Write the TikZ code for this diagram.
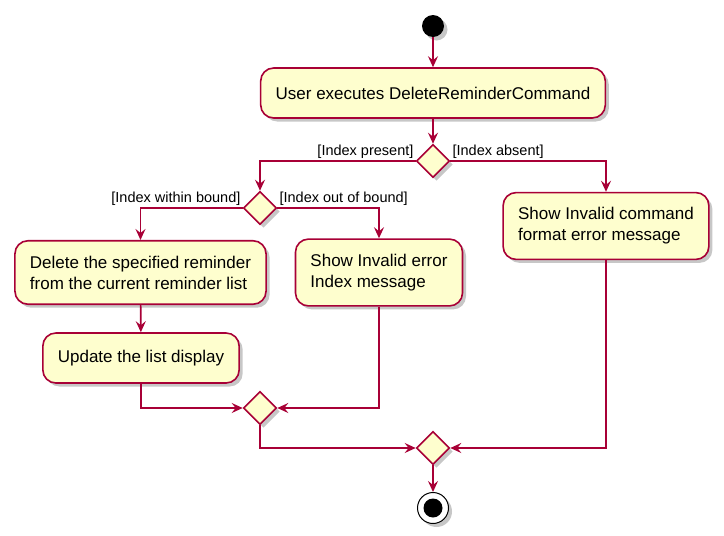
\documentclass[tikz,border=0pt]{standalone}
\usepackage{fontspec}
\setmainfont{Liberation Sans}
\usetikzlibrary{arrows.meta,shapes.geometric,shadows}
\definecolor{umlred}{HTML}{A80036}
\definecolor{umlfill}{HTML}{FEFECE}
\tikzset{
  shade/.style={drop shadow={shadow xshift=3.5pt,shadow yshift=-3.5pt,opacity=0.4,fill=black!55}},
  act/.style={draw=umlred,fill=umlfill,line width=1.6pt,rounded corners=13pt,shade,
    align=left,inner xsep=15pt,inner ysep=15pt,minimum height=50pt,
    font=\fontsize{17}{21}\selectfont},
  dec/.style={draw=umlred,fill=umlfill,line width=1.6pt,diamond,aspect=1,shade,
    inner sep=0pt,minimum width=33pt,minimum height=33pt},
  flow/.style={draw=umlred,line width=1.6pt,-{Stealth[length=11pt,width=10pt,inset=4pt]}},
  guard/.style={font=\fontsize{14.5}{17}\selectfont,inner sep=1.5pt},
}
\begin{document}
\begin{tikzpicture}[x=1pt,y=-1pt]
\useasboundingbox (0,0) rectangle (724,536);
% start / end
\node[circle,fill=black,minimum size=22pt,inner sep=0pt,shade] (start) at (433,26) {};
\node[circle,draw=black,line width=1pt,fill=white,minimum size=31pt,inner sep=0pt,shade,
  path picture={\fill[black] (path picture bounding box.center) circle (9.5pt);}] (stop) at (433,508) {};
% actions
\node[act] (exec) at (433,93) {User executes DeleteReminderCommand};
\node[act] (delete) at (140.5,272.5) {Delete the specified reminder\\from the current reminder list};
\node[act] (update) at (141,358) {Update the list display};
\node[act] (showidx) at (379,272.5) {Show Invalid error\\Index message};
\node[act] (showfmt) at (606,226) {Show Invalid command\\format error message};
% decisions and merges
\node[dec] (chkidx) at (433,161) {};
\node[dec] (chkbound) at (260,208) {};
\node[dec] (mrgbound) at (260,408) {};
\node[dec] (mrgall) at (433,448) {};
% flow
\draw[flow] (start) -- (exec);
\draw[flow] (exec) -- (chkidx);
\draw[flow] (chkidx.west) node[guard,anchor=south east] {[Index present]} -| (chkbound.north);
\draw[flow] (chkidx.east) node[guard,anchor=south west] {[Index absent]} -| (showfmt.north);
\draw[flow] (chkbound.west) node[guard,anchor=south east] {[Index within bound]} -| (delete.north);
\draw[flow] (chkbound.east) node[guard,anchor=south west] {[Index out of bound]} -| (showidx.north);
\draw[flow] (delete) -- (update);
\draw[flow] (update.south) |- (mrgbound.west);
\draw[flow] (showidx.south) |- (mrgbound.east);
\draw[flow] (mrgbound.south) |- (mrgall.west);
\draw[flow] (showfmt.south) |- (mrgall.east);
\draw[flow] (mrgall) -- (stop);
\end{tikzpicture}
\end{document}
